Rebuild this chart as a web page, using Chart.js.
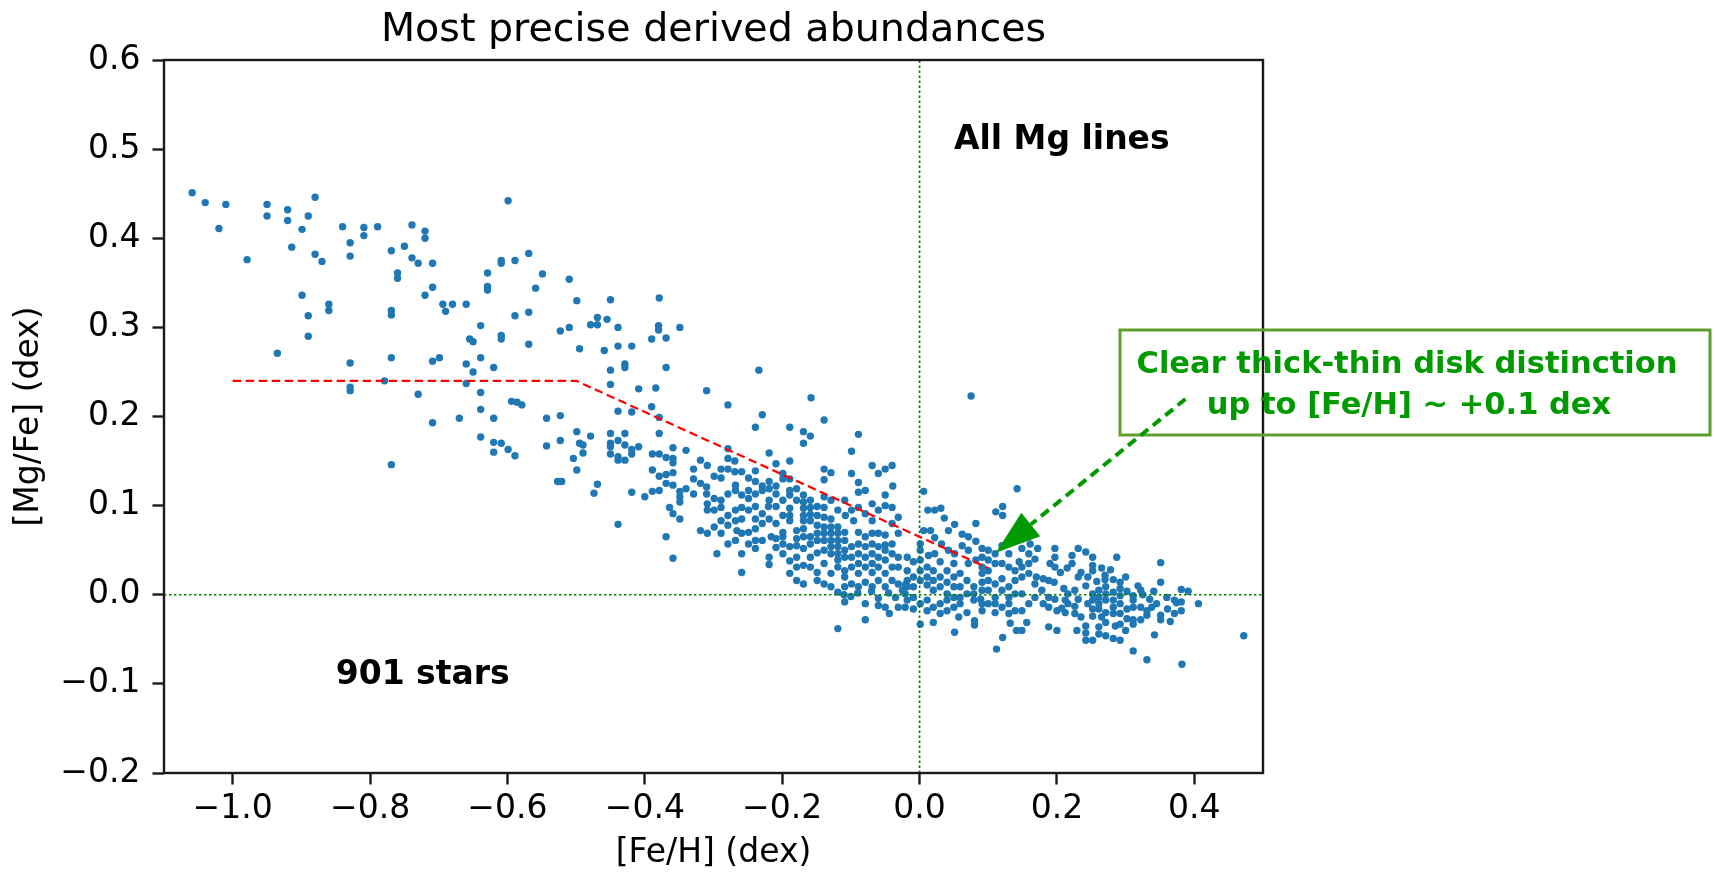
<!DOCTYPE html>
<html>
<head>
<meta charset="utf-8">
<script src="https://cdn.jsdelivr.net/npm/chart.js@4.4.1/dist/chart.umd.min.js"></script>
<style>
html,body{margin:0;padding:0;background:#fff;}
canvas{display:block;}
</style>
</head>
<body>
<canvas id="c" width="1715" height="873"></canvas>
<script>
// ---- Data ([Fe/H], [Mg/Fe]) ----
const STARS_METAL_POOR = [
[-1.059,0.451],[-1.040,0.440],[-1.010,0.438],[-1.020,0.411],[-0.979,0.376],[-0.950,0.438],[-0.950,0.425],[-0.920,0.432],[-0.920,0.420],[-0.890,0.425],[-0.880,0.446],[-0.899,0.410],[-0.914,0.390],[-0.880,0.382],[-0.870,0.374],[-0.899,0.336],[-0.890,0.313],[-0.890,0.290],[-0.860,0.326],[-0.860,0.319],[-0.935,0.271],[-0.840,0.413],[-0.829,0.395],[-0.829,0.380],[-0.809,0.412],[-0.809,0.403],[-0.789,0.413],[-0.829,0.260],[-0.829,0.233],[-0.829,0.229],[-0.779,0.240],[-0.769,0.266],[-0.769,0.319],[-0.769,0.314],[-0.769,0.386],[-0.760,0.361],[-0.760,0.355],[-0.750,0.391],[-0.739,0.415],[-0.739,0.378],[-0.730,0.372],[-0.720,0.408],[-0.720,0.400],[-0.709,0.372],[-0.709,0.345],[-0.720,0.336],[-0.694,0.326],[-0.690,0.318],[-0.680,0.326],[-0.660,0.326],[-0.709,0.262],[-0.699,0.266],[-0.730,0.225],[-0.769,0.146],[-0.709,0.193],[-0.670,0.198],[-0.660,0.259],[-0.650,0.250],[-0.660,0.237],[-0.639,0.302],[-0.655,0.287],[-0.650,0.284],[-0.639,0.266],[-0.639,0.227],[-0.639,0.208],[-0.639,0.177],[-0.629,0.361],[-0.629,0.346],[-0.629,0.342],[-0.620,0.255],[-0.620,0.198],[-0.620,0.171],[-0.620,0.160],[-0.609,0.375],[-0.609,0.372],[-0.599,0.442],[-0.589,0.375],[-0.569,0.383],[-0.609,0.291],[-0.609,0.287],[-0.589,0.313],[-0.569,0.317],[-0.569,0.281],[-0.549,0.360],[-0.559,0.344],[-0.609,0.170],[-0.599,0.163],[-0.589,0.156],[-0.594,0.217],[-0.586,0.216],[-0.579,0.213],[-0.543,0.198],[-0.543,0.167],[-0.523,0.201],[-0.523,0.173],[-0.527,0.127],[-0.521,0.127],[-0.510,0.354],[-0.499,0.330],[-0.523,0.296],[-0.510,0.300],[-0.495,0.276],[-0.499,0.183],[-0.495,0.170],[-0.490,0.168],[-0.490,0.159],[-0.504,0.153],[-0.499,0.140],[-0.479,0.178],[-0.479,0.303],[-0.469,0.303],[-0.469,0.311],[-0.455,0.309],[-0.450,0.331],[-0.459,0.274],[-0.450,0.252],[-0.450,0.236],[-0.439,0.300],[-0.439,0.279],[-0.429,0.259],[-0.429,0.255],[-0.419,0.279],[-0.409,0.231],[-0.439,0.206],[-0.419,0.205],[-0.450,0.181],[-0.450,0.170],[-0.450,0.166],[-0.439,0.173],[-0.429,0.181],[-0.429,0.168],[-0.450,0.158],[-0.439,0.155],[-0.439,0.151],[-0.429,0.151],[-0.419,0.163],[-0.419,0.158],[-0.409,0.166],[-0.469,0.124],[-0.474,0.114],[-0.419,0.115],[-0.400,0.110],[-0.390,0.287],[-0.390,0.211]
];
const STARS_TRANSITION = [
[-0.379,0.333],[-0.380,0.302],[-0.380,0.297],[-0.369,0.288],[-0.349,0.300],[-0.369,0.255],[-0.384,0.232],[-0.379,0.199],[-0.379,0.181],[-0.310,0.229],[-0.340,0.162],[-0.389,0.158],[-0.379,0.158],[-0.369,0.154],[-0.359,0.165],[-0.359,0.153],[-0.359,0.148],[-0.389,0.140],[-0.379,0.133],[-0.369,0.135],[-0.359,0.137],[-0.369,0.125],[-0.359,0.123],[-0.389,0.116],[-0.379,0.117],[-0.349,0.116],[-0.349,0.110],[-0.349,0.104],[-0.340,0.119],[-0.329,0.141],[-0.329,0.130],[-0.329,0.113],[-0.319,0.151],[-0.319,0.125],[-0.319,0.072],[-0.369,0.065],[-0.359,0.041],[-0.364,0.098],[-0.359,0.091],[-0.349,0.085],[-0.439,0.079],[-0.234,0.252],[-0.158,0.221],[0.075,0.223]
];
const STARS_SUBSOLAR = [
[-0.279,0.213],[-0.229,0.202],[-0.239,0.188],[-0.189,0.188],[-0.139,0.196],[-0.169,0.183],[-0.159,0.178],[-0.169,0.170],[-0.089,0.180],[-0.099,0.161],[-0.219,0.159],[-0.189,0.150],[-0.209,0.147],
[-0.309,0.145],[-0.269,0.150],[-0.279,0.153],[-0.279,0.164],[-0.289,0.141],[-0.279,0.141],[-0.299,0.133],[-0.289,0.131],[-0.269,0.138],[-0.259,0.138],[-0.249,0.131],[-0.239,0.139],[-0.239,0.127],[-0.229,0.122],[-0.219,0.127],[-0.209,0.122],[-0.199,0.130],[-0.189,0.130],[-0.199,0.136],
[-0.268,0.123],[-0.268,0.117],[-0.259,0.112],[-0.249,0.117],[-0.239,0.113],[-0.249,0.108],[-0.229,0.117],[-0.219,0.119],[-0.219,0.106],[-0.209,0.113],[-0.199,0.106],[-0.189,0.112],[-0.179,0.119],[-0.169,0.112],[-0.179,0.106],[-0.169,0.104],[-0.159,0.106],[-0.159,0.098],[-0.169,0.097],[-0.149,0.099],[-0.169,0.089],[-0.159,0.090],[-0.169,0.083],[-0.159,0.083],[-0.189,0.097],[-0.189,0.089],[-0.189,0.083],[-0.199,0.089],[-0.199,0.070],[-0.199,0.065],[-0.199,0.057],[-0.209,0.080],[-0.219,0.085],[-0.229,0.091],[-0.229,0.080],[-0.239,0.085],[-0.239,0.074],[-0.249,0.095],[-0.249,0.070],[-0.259,0.085],[-0.268,0.095],[-0.279,0.089],[-0.279,0.078],[-0.289,0.106],[-0.299,0.108],[-0.309,0.102],[-0.309,0.095],[-0.299,0.095],[-0.289,0.098],[-0.266,0.072],[-0.309,0.069],[-0.295,0.046],[-0.259,0.046],[-0.259,0.025],[-0.239,0.052],[-0.219,0.042],[-0.219,0.034],[-0.216,0.065],[-0.179,0.055],[-0.169,0.074],[-0.169,0.065],[-0.159,0.065],[-0.159,0.057],[-0.149,0.078],[-0.149,0.069],[-0.149,0.061],[-0.149,0.047],[-0.149,0.025],[-0.169,0.033],[-0.179,0.016],[-0.169,0.012],
[-0.139,0.087],[-0.139,0.076],[-0.139,0.069],[-0.139,0.061],[-0.139,0.050],[-0.139,0.035],[-0.139,0.012],[-0.129,0.085],[-0.129,0.076],[-0.129,0.069],[-0.129,0.061],[-0.129,0.054],[-0.129,0.046],[-0.129,0.024],[-0.119,0.076],[-0.119,0.069],[-0.119,0.061],[-0.119,0.054],[-0.119,0.046],[-0.119,0.039],[-0.119,0.031],[-0.119,0.003],[-0.109,0.070],[-0.109,0.061],[-0.109,0.050],[-0.109,0.042],[-0.109,0.027],[-0.109,0.020],[-0.099,0.054],[-0.099,0.042],[-0.099,0.031],[-0.099,0.012],[-0.089,0.070],[-0.089,0.057],[-0.089,0.046],[-0.089,0.035],[-0.089,0.024],[-0.079,0.065],[-0.079,0.054],[-0.079,0.042],[-0.079,0.031],[-0.079,0.014],[-0.069,0.069],[-0.069,0.057],[-0.069,0.046],[-0.069,0.035],[-0.069,0.025],[-0.060,0.054],[-0.060,0.042],[-0.060,0.031],[-0.060,0.016],[-0.050,0.050],[-0.050,0.039],[-0.050,0.024],[-0.050,0.009],[-0.040,0.057],[-0.040,0.031],[-0.040,0.016],[-0.031,0.042],[-0.031,0.012],[-0.040,0.080],[-0.050,0.067],
[-0.139,0.141],[-0.139,0.129],[-0.129,0.137],[-0.099,0.136],[-0.089,0.126],[-0.089,0.115],[-0.079,0.117],[-0.069,0.145],[-0.060,0.136],[-0.050,0.141],[-0.040,0.145],[-0.039,0.122],[-0.050,0.112],[-0.050,0.100],[-0.139,0.110],[-0.220,0.099],[-0.209,0.099],[-0.259,0.098],[-0.239,0.099],[-0.279,0.113],[-0.310,0.121],[-0.310,0.113],[-0.189,0.117],[-0.179,0.072],[-0.179,0.063],[-0.189,0.054],[-0.239,0.061],[-0.259,0.069],[-0.268,0.083],[-0.289,0.069],[-0.096,0.083],[-0.069,0.083],[-0.108,0.089],
[-0.119,-0.038],[-0.079,-0.028],[-0.109,-0.008],[-0.079,-0.010],[-0.060,-0.012],[-0.050,-0.014],[-0.044,-0.021],[-0.031,-0.014],
[-0.110,0.000],[-0.100,-0.002],[-0.090,0.002],[-0.070,0.004],[-0.060,-0.004],[-0.045,0.002],[-0.035,-0.003],[-0.025,0.005],
[-0.209,0.063],[-0.199,0.046],[-0.189,0.038],[-0.179,0.042],[-0.169,0.052],[-0.159,0.042],[-0.159,0.031],[-0.179,0.031],[-0.189,0.024],[-0.209,0.053],[-0.229,0.061],[-0.249,0.057],[-0.268,0.061],[-0.279,0.057],[-0.289,0.083],[-0.299,0.076],
[-0.149,0.089],[-0.139,0.098],[-0.129,0.106],[-0.119,0.095],[-0.109,0.106],[-0.099,0.095],[-0.089,0.098],[-0.079,0.091],[-0.069,0.102],[-0.060,0.095],[-0.040,0.098],[-0.031,0.087],[-0.031,0.069],[-0.040,0.046],[-0.031,0.031],[-0.050,0.056],[-0.060,0.069],[-0.069,0.009],[-0.089,0.009],[-0.109,0.009],[-0.129,0.009],[-0.149,0.016]
];
const STARS_SOLAR = [
[0.006,0.116],[0.142,0.119],[0.012,0.095],[0.022,0.095],[0.031,0.097],[0.036,0.086],[0.051,0.079],[0.111,0.093],[0.121,0.099],[0.121,0.089],[0.082,0.080],[0.071,0.065],[0.082,0.060],[0.091,0.052],[0.100,0.039],[0.091,0.042],[0.091,0.031],[0.091,0.024],[0.091,0.014],[0.082,0.039],[0.071,0.035],[0.062,0.055],[0.051,0.046],[0.042,0.050],[0.032,0.057],[0.022,0.046],[0.013,0.044],[0.001,0.057],[0.001,0.050],[0.001,0.039],[0.001,0.027],[0.001,0.016],[0.001,-0.010],[0.001,-0.033],[-0.009,0.037],[-0.018,0.042],[-0.018,0.027],[-0.018,0.016],[-0.018,-0.006],[-0.009,0.020],[-0.009,0.009],[-0.009,-0.016],[0.011,0.031],[0.011,0.020],[0.011,0.011],[0.011,-0.006],[0.020,0.027],[0.020,0.016],[0.020,0.005],[0.020,-0.031],[0.030,0.037],[0.030,0.020],[0.030,0.009],[0.030,-0.010],[0.030,-0.021],[0.040,0.027],[0.040,0.014],[0.040,0.001],[0.040,-0.006],[0.050,0.035],[0.050,0.020],[0.050,-0.003],[0.050,-0.014],[0.051,-0.042],[0.059,0.024],[0.059,0.009],[0.059,-0.010],[0.069,0.016],[0.069,0.001],[0.069,-0.020],[0.079,0.009],[0.079,-0.006],[0.080,-0.029],[0.080,-0.034],[0.089,-0.005],[0.091,-0.018],[0.100,0.027],[0.100,0.016],[0.100,0.005],[0.100,-0.010],[0.110,0.012],[0.110,-0.003],[0.110,-0.020],[0.120,0.018],[0.120,0.005],[0.120,-0.014],[0.121,-0.048],[0.112,-0.061],[0.130,0.031],[0.130,0.009],[0.130,-0.003],[0.130,-0.010],[0.132,-0.032],[0.139,0.016],[0.139,0.001],[0.139,-0.018],[0.141,-0.040],[0.149,0.001],[0.149,0.020],[0.156,-0.031],[0.149,-0.040],[0.149,0.052],[0.159,0.046],[0.159,0.035],[0.161,0.057],[0.168,0.040],[0.172,0.052],[0.170,0.020],[0.180,0.018],[0.180,-0.010],[0.188,-0.014],[0.188,0.016],[0.196,0.014],[0.197,0.052],[0.197,0.042],[0.197,0.031],[0.197,-0.005],[0.190,0.035],[0.188,-0.036],[0.200,-0.040],[0.200,-0.018],[0.212,-0.006],[0.212,-0.020],[0.222,0.044],[0.222,0.035],[0.231,0.052],[0.226,-0.021],[0.229,-0.040],[-0.021,0.011],[-0.021,0.001],[-0.021,-0.014],[0.231,0.020],[0.216,0.001],[0.216,-0.010],[0.226,0.005],
[0.120,0.055],[0.110,0.046],[0.130,0.046],[0.145,0.037],[0.207,-0.015],[0.231,-0.005],[0.226,-0.013],[0.210,0.007],
[0.006,0.072],[0.016,0.072],[0.022,0.064],[0.042,0.072],[0.062,0.068],[0.071,0.050],[0.100,0.050],[0.110,0.035],[0.120,0.035],[0.139,0.027],[0.149,0.031],[0.159,0.024],[0.168,0.012],[0.178,0.005],[0.188,-0.003],[0.168,-0.003],[0.159,-0.010],[0.149,-0.018],[0.057,-0.025],[0.091,0.005],[0.091,-0.010],[0.110,-0.010],[0.130,-0.021],[0.011,-0.018],[0.020,-0.014],[-0.009,-0.003],[-0.018,0.009],[0.040,-0.018],[0.059,-0.003],[0.079,0.001],[0.050,0.009]
];
const STARS_METAL_RICH = [
[0.242,0.048],[0.252,0.042],[0.252,0.033],[0.252,0.027],[0.242,0.010],[0.287,0.042],[0.270,0.022],[0.270,0.017],[0.282,0.017],[0.292,0.014],[0.292,0.007],[0.261,0.005],[0.271,0.009],[0.252,0.001],[0.252,-0.006],[0.252,-0.016],[0.252,-0.024],[0.261,-0.003],[0.261,-0.010],[0.261,-0.016],[0.271,0.001],[0.271,-0.006],[0.271,-0.020],[0.271,-0.031],[0.282,0.003],[0.282,-0.006],[0.282,-0.014],[0.282,-0.021],[0.292,-0.001],[0.292,-0.010],[0.292,-0.021],[0.292,-0.033],[0.302,0.004],[0.302,-0.016],[0.311,-0.001],[0.311,-0.006],[0.311,-0.014],[0.311,-0.028],[0.311,-0.033],[0.322,-0.028],[0.331,-0.023],[0.338,-0.014],[0.341,0.004],[0.351,0.036],[0.351,0.014],[0.351,-0.023],[0.351,-0.028],[0.361,-0.016],[0.371,-0.006],[0.371,-0.021],[0.374,-0.009],[0.381,0.006],[0.381,-0.008],[0.381,-0.018],[0.391,0.004],[0.406,-0.010],[0.472,-0.046],[0.342,-0.045],[0.311,-0.063],[0.331,-0.073],[0.382,-0.078],[0.292,-0.051],[0.282,-0.049],[0.271,-0.046],[0.261,-0.044],[0.261,-0.036],[0.252,-0.051],[0.242,-0.051],[0.242,-0.043],[0.242,-0.035],[0.302,-0.027],[0.322,-0.014],[0.331,-0.018],
[0.205,0.025],[0.215,0.030],[0.235,0.025],[0.245,0.020],[0.258,0.015],[0.265,0.030],[0.278,0.028],[0.300,0.020],[0.318,0.010],[0.325,0.000],[0.335,-0.005],[0.345,-0.010],[0.360,-0.003],[0.365,-0.030],[0.300,-0.040],[0.285,-0.035],[0.265,-0.025],[0.245,-0.010],[0.235,-0.025],[0.322,0.005]
];

// dividing line between thick and thin disk
const DIVIDER_FE = [-1.0, -0.5, 0.1];
const DIVIDER_MG = [0.24, 0.24, 0.03];

// tick labels
const X_TICKS = [-1.0, -0.8, -0.6, -0.4, -0.2, 0.0, 0.2, 0.4];
const Y_TICKS = [-0.2, -0.1, 0.0, 0.1, 0.2, 0.3, 0.4, 0.5, 0.6];
const X_RANGE = [-1.1, 0.5];
const Y_RANGE = [-0.2, 0.6];

// texts
const TITLE = 'Most precise derived abundances';
const X_LABEL = '[Fe/H] (dex)';
const Y_LABEL = '[Mg/Fe] (dex)';
const NOTE_LINES = 'All Mg lines';
const NOTE_LINES_AT = [0.05, 0.5];
const NOTE_COUNT = '901 stars';
const NOTE_COUNT_AT = [-0.85, -0.1];
const ANNOT_TEXT = ['Clear thick-thin disk distinction', 'up to [Fe/H] ~ +0.1 dex'];
const ANNOT_XY = [0.111, 0.047];

// ---- build chart ----
const FONT = 'DejaVu Sans';
const fmt = v => {
  const s = Math.abs(v) < 1e-9 ? '0.0' : Math.abs(v).toFixed(1);
  return (v < -1e-9 ? '\u2212' : '') + s;
};
const toPts = arr => arr.map(p => ({x: p[0], y: p[1]}));
const stars = toPts([].concat(STARS_METAL_POOR, STARS_TRANSITION, STARS_SUBSOLAR, STARS_SOLAR, STARS_METAL_RICH));
const divider = DIVIDER_FE.map((x, i) => ({x, y: DIVIDER_MG[i]}));

const overlay = {
  id: 'overlay',
  afterDraw(chart) {
    const ctx = chart.ctx;
    const a = chart.chartArea;
    const xs = chart.scales.x, ys = chart.scales.y;
    ctx.save();
    // frame
    ctx.strokeStyle = '#1a1a1a';
    ctx.lineWidth = 2.4;
    ctx.strokeRect(a.left, a.top, a.right - a.left, a.bottom - a.top);
    // title
    ctx.fillStyle = '#000';
    ctx.font = '39.6px "' + FONT + '"';
    ctx.textAlign = 'center';
    ctx.textBaseline = 'alphabetic';
    ctx.fillText(TITLE, (a.left + a.right) / 2, 40.5);
    // bold notes
    ctx.font = 'bold 33px "' + FONT + '"';
    ctx.textAlign = 'left';
    ctx.fillText(NOTE_LINES, xs.getPixelForValue(NOTE_LINES_AT[0]), ys.getPixelForValue(NOTE_LINES_AT[1]));
    ctx.fillText(NOTE_COUNT, xs.getPixelForValue(NOTE_COUNT_AT[0]), ys.getPixelForValue(NOTE_COUNT_AT[1]));
    // annotation box
    const green = '#009a00';
    ctx.strokeStyle = '#5e9e2e';
    ctx.lineWidth = 3;
    ctx.strokeRect(1120, 330, 590, 105);
    ctx.fillStyle = green;
    ctx.font = 'bold 30.5px "' + FONT + '"';
    ctx.textAlign = 'center';
    ctx.fillText(ANNOT_TEXT[0], 1407, 373);
    ctx.fillText(ANNOT_TEXT[1], 1409, 414);
    // arrow
    const tip = [xs.getPixelForValue(ANNOT_XY[0]), ys.getPixelForValue(ANNOT_XY[1])];
    const start = [1185.5, 399];
    let dx = tip[0] - start[0], dy = tip[1] - start[1];
    const len = Math.hypot(dx, dy); dx /= len; dy /= len;
    const headLen = 45, halfW = 15;
    const base = [tip[0] - dx * headLen, tip[1] - dy * headLen];
    ctx.strokeStyle = green;
    ctx.lineWidth = 4;
    ctx.setLineDash([10, 6]);
    ctx.beginPath(); ctx.moveTo(start[0], start[1]); ctx.lineTo(base[0], base[1]); ctx.stroke();
    ctx.setLineDash([]);
    ctx.beginPath();
    ctx.moveTo(tip[0], tip[1]);
    ctx.lineTo(base[0] - dy * halfW, base[1] + dx * halfW);
    ctx.lineTo(base[0] + dy * halfW, base[1] - dx * halfW);
    ctx.closePath();
    ctx.fill();
    ctx.restore();
  }
};

new Chart(document.getElementById('c'), {
  type: 'scatter',
  data: {
    datasets: [
      {data: divider, showLine: true, borderColor: '#ff0000', borderWidth: 2.2, borderDash: [8.5, 4.5], pointRadius: 0, fill: false},
      {data: [{x: X_RANGE[0], y: 0}, {x: X_RANGE[1], y: 0}], showLine: true, borderColor: '#008000', borderWidth: 1.7, borderDash: [2.4, 2.6], pointRadius: 0},
      {data: [{x: 0, y: Y_RANGE[0]}, {x: 0, y: Y_RANGE[1]}], showLine: true, borderColor: '#008000', borderWidth: 1.7, borderDash: [2.4, 2.6], pointRadius: 0},
      {data: stars, backgroundColor: '#1f77b4', borderWidth: 0, pointRadius: 3.7, pointHoverRadius: 3.7}
    ]
  },
  options: {
    responsive: false,
    animation: false,
    devicePixelRatio: 1,
    events: [],
    layout: {padding: {left: 0, top: 60, right: 452, bottom: 0}},
    plugins: {legend: {display: false}, tooltip: {enabled: false}, title: {display: false}},
    scales: {
      x: {
        type: 'linear', min: X_RANGE[0], max: X_RANGE[1],
        afterBuildTicks: s => { s.ticks = X_TICKS.map(v => ({value: v})); },
        afterFit: s => { s.height = 100; },
        grid: {drawOnChartArea: false, drawTicks: true, tickLength: 11.5, tickWidth: 2.4, tickColor: '#1a1a1a'},
        border: {display: false},
        ticks: {font: {family: FONT, size: 33}, color: '#000', padding: 5.5, maxRotation: 0, autoSkip: false, callback: v => fmt(v)},
        title: {display: true, text: X_LABEL, font: {family: FONT, size: 33}, color: '#000', padding: {top: 0, bottom: 0}}
      },
      y: {
        type: 'linear', min: Y_RANGE[0], max: Y_RANGE[1],
        afterBuildTicks: s => { s.ticks = Y_TICKS.map(v => ({value: v})); },
        afterFit: s => { s.width = 164; },
        grid: {drawOnChartArea: false, drawTicks: true, tickLength: 11.5, tickWidth: 2.4, tickColor: '#1a1a1a'},
        border: {display: false},
        ticks: {font: {family: FONT, size: 33}, color: '#000', padding: 12, autoSkip: false, callback: v => fmt(v)},
        title: {display: true, text: Y_LABEL, font: {family: FONT, size: 33}, color: '#000', padding: {top: 10, bottom: 0}}
      }
    }
  },
  plugins: [overlay]
});
</script>
</body>
</html>
